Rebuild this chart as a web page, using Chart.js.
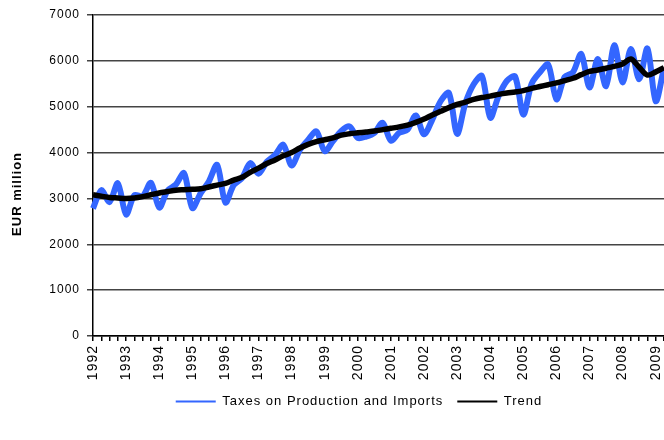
<!DOCTYPE html>
<html>
<head>
<meta charset="utf-8">
<script src="https://cdn.jsdelivr.net/npm/chart.js@4.4.0/dist/chart.umd.min.js"></script>
<style>
html,body{margin:0;padding:0;background:#fff;}
#wrap{width:664px;height:440px;position:relative;}
</style>
</head>
<body>
<div id="wrap"><canvas id="chart"></canvas></div>
<script>
// quarterly, 1992 Q1 .. 2009 Q2
let years=[1992,1993,1994,1995,1996,1997,1998,1999,2000,2001,2002,2003,2004,2005,2006,2007,2008,2009];

let taxes=[
2780,3180,2920,3330,
2650,3070,3050,3340,
2800,3170,3300,3550,
2790,3110,3370,3730,
2910,3290,3440,3770,
3540,3800,3950,4170,
3720,4060,4280,4460,
4030,4250,4470,4570,
4320,4350,4430,4650,
4260,4430,4500,4810,
4400,4720,5120,5300,
4410,5080,5490,5670,
4760,5230,5560,5660,
4830,5500,5750,5920,
5160,5650,5750,6150,
5420,6040,5450,6340,
5530,6260,5600,6270,
5120,5850
];

let trend=[
3080,3050,3020,3010,
3000,3010,3040,3080,
3120,3150,3180,3190,
3200,3210,3250,3290,
3330,3400,3460,3570,
3660,3760,3840,3930,
4000,4100,4180,4240,
4280,4320,4380,4410,
4430,4450,4470,4500,
4530,4560,4600,4660,
4730,4820,4900,4980,
5050,5100,5160,5200,
5230,5270,5300,5320,
5350,5400,5440,5480,
5520,5570,5620,5700,
5770,5800,5840,5880,
5930,6040,5860,5690,
5760,5850
];

// one label per quarter, year shown on Q1 only
let labels=[];
years.forEach(function(y){ labels.push(String(y),"","",""); });
labels=labels.slice(0,taxes.length);

Chart.defaults.font.family="'Liberation Sans', Arial, sans-serif";
Chart.defaults.color="#000";

/* wider letter spacing like the original */
const spacing={
id:"spacing",
beforeLayout(chart){ chart.ctx.letterSpacing="1px"; },
beforeDraw(chart){ chart.ctx.letterSpacing="1px"; }
};

/* move legend to where it sits in the original */
const legendPos={
id:"legendPos",
afterLayout(chart){
let lg=chart.legend;
let w=lg.right-lg.left;
lg.left=359-w/2;
lg.right=359+w/2;
let h=lg.bottom-lg.top;
lg.top=381;
lg.bottom=lg.top+h;
}
};

new Chart(document.getElementById("chart"),{
type:"line",
data:{
labels:labels,
datasets:[{
label:"Taxes on Production and Imports",
data:taxes,
borderColor:"#3366ff",
borderWidth:6,
pointRadius:0,
tension:0.3,
order:2,
fill:false
},{
label:"Trend",
data:trend,
borderColor:"#000000",
borderWidth:5.5,
pointRadius:0,
tension:0.3,
order:1,
fill:false
}]
},
options:{
responsive:true,
maintainAspectRatio:false,
animation:false,
layout:{padding:{top:15,right:0,bottom:0,left:0}},
plugins:{
tooltip:{enabled:false},
legend:{
display:true,
position:"bottom",
labels:{
boxWidth:40,
boxHeight:2,
padding:14,
font:{size:13},
generateLabels(chart){
return chart.data.datasets.map(function(ds,i){
return {text:ds.label,fillStyle:ds.borderColor,strokeStyle:ds.borderColor,lineWidth:0,hidden:false,datasetIndex:i,fontColor:"#000"};
});
}
}
}
},
scales:{
x:{
grid:{display:true,drawOnChartArea:false,drawTicks:true,tickLength:5,color:"#000",tickColor:"#000",tickWidth:1.5,lineWidth:1.5},
border:{display:true,color:"#000",width:1.5},
ticks:{autoSkip:false,minRotation:90,maxRotation:90,padding:4,font:{size:14}},
afterFit(s){
s.height=104-s.chart.legend.height;
s.paddingLeft=0;
s.paddingRight=0;
}
},
y:{
min:0,
max:7000,
ticks:{stepSize:1000,padding:7,font:{size:12},callback:function(v){ return String(v); }},
grid:{color:"#444",lineWidth:1.5,tickLength:6},
border:{display:true,color:"#000",width:1.5},
title:{display:true,text:"EUR million        ",font:{size:13,weight:"bold"},padding:{top:10,bottom:0}},
afterFit(s){ s.width=93; }
}
}
},
plugins:[spacing,legendPos]
});
</script>
</body>
</html>
